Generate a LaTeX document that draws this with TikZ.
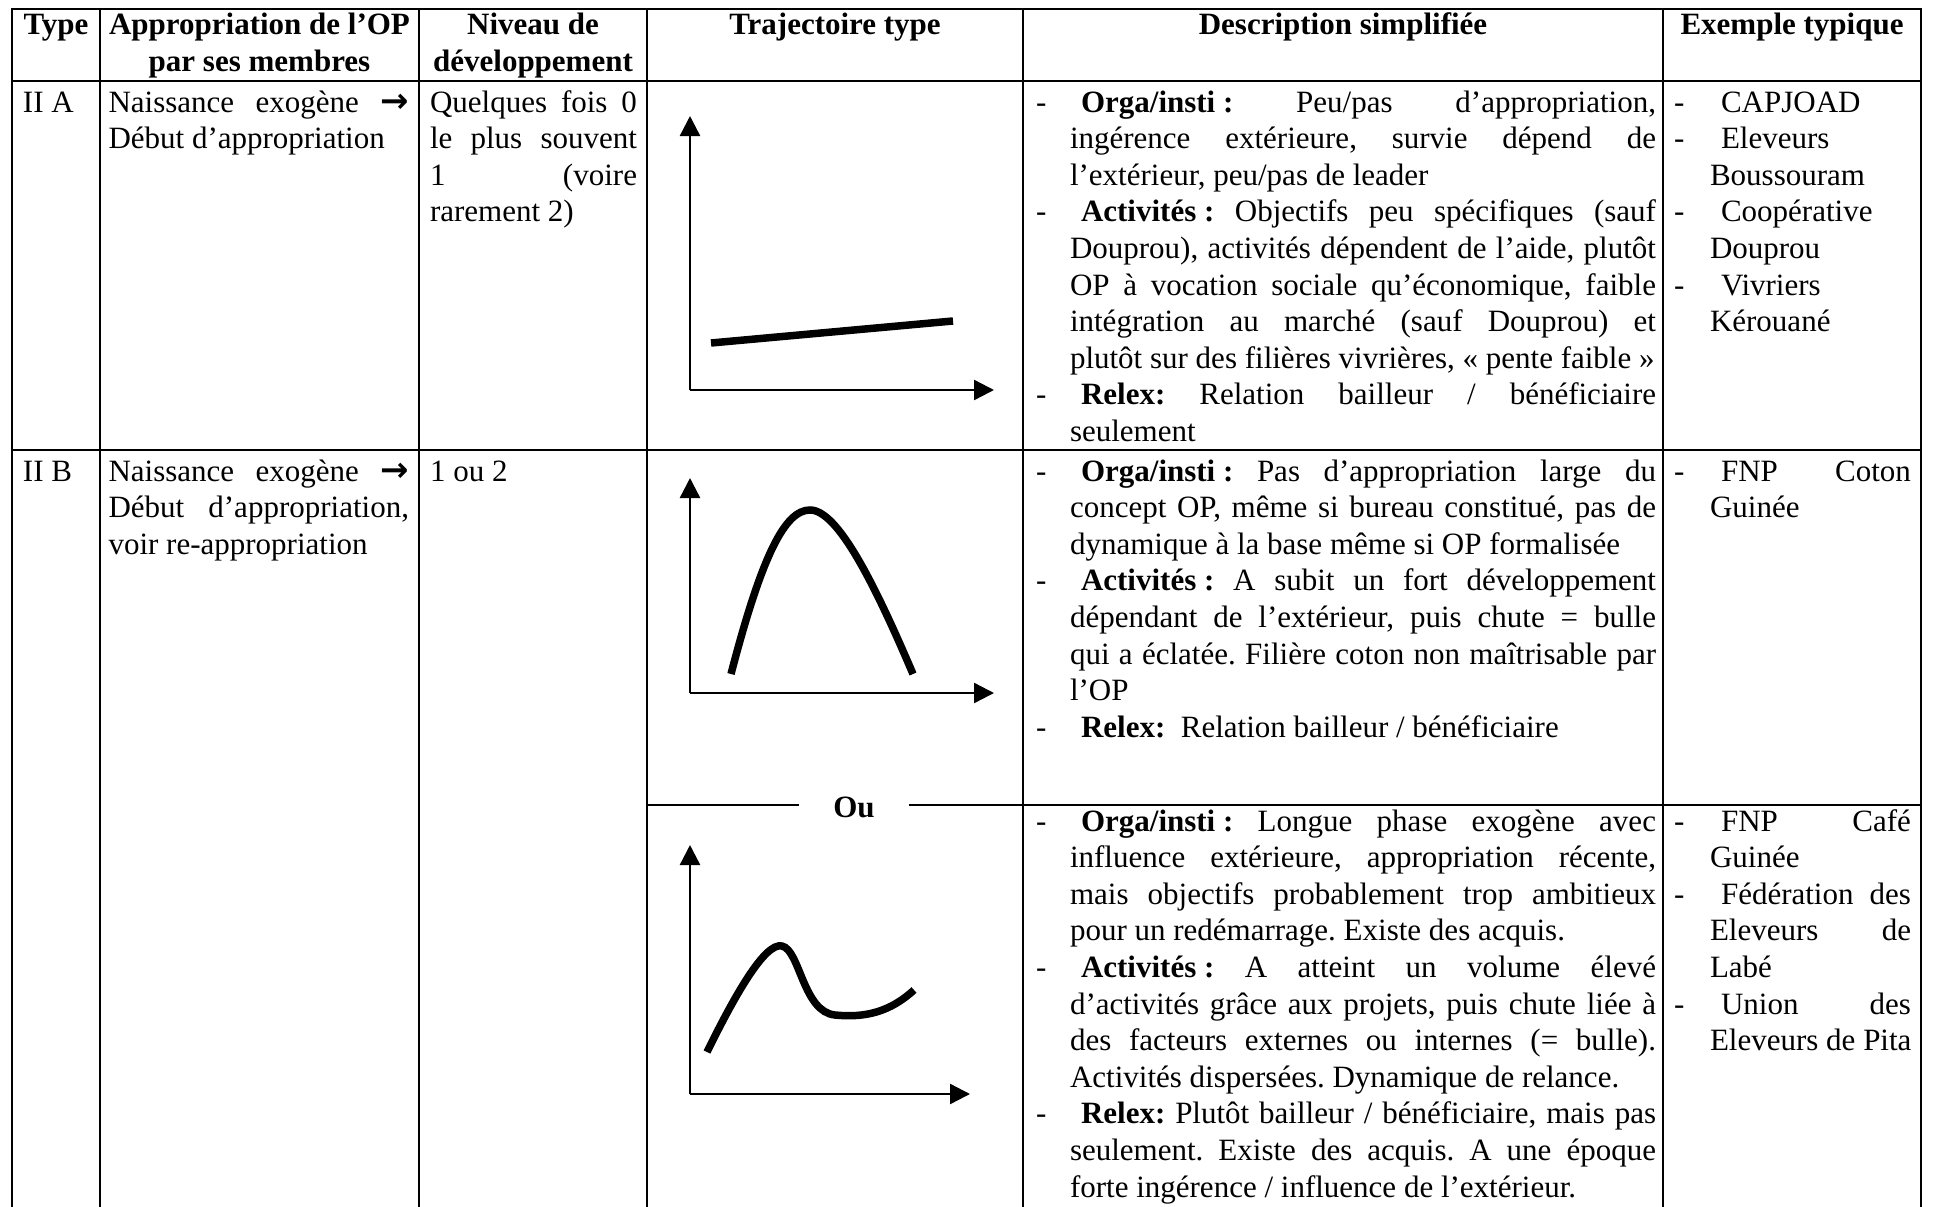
\documentclass[tikz,border=0pt]{standalone}
\usepackage{fontspec}
\setmainfont{Liberation Serif}
\newfontfamily\arrowfont{DejaVu Sans}
\usetikzlibrary{arrows.meta}
\frenchspacing
\newcommand\arr{{\arrowfont\bfseries\fontsize{34}{34}\selectfont →}}
\tikzset{
  txt/.style={anchor=base west, inner sep=0pt, outer sep=0pt, font=\fontsize{31}{36.6}\selectfont},
  hdr/.style={anchor=base, inner sep=0pt, outer sep=0pt, font=\fontsize{31}{36.6}\selectfont\bfseries},
  grid/.style={line width=2.8pt},
  axis/.style={line width=2.4pt, -{Triangle[length=20pt,width=20pt]}},
  curve/.style={line width=7.5pt},
}
% plain line, justified line, bullet dash
\newcommand\Ln[4]{\node[txt] (#1) at (#2,#3) {#4};}
\newcommand\Jn[5]{\node[txt] (#1) at (#2,#3) {\makebox[#4pt][s]{#5}};}
\newcommand\Dash[3]{\node[txt] (#1) at (#2,#3) {-};}
\newcommand\lab[1]{\textbf{\mbox{#1}}}
\begin{document}
\begin{tikzpicture}[x=1pt,y=-1pt]
\useasboundingbox (0,0) rectangle (1933,1207);

% ---- table rules
\draw[grid] (12,1207) -- (12,9) -- (1921,9) -- (1921,1207);
\draw[grid] (12,81) -- (1921,81);
\draw[grid] (12,450) -- (1921,450);
\foreach \x in {100,419,647,1023,1663} \draw[grid] (\x,9) -- (\x,1207);
\node[hdr, inner xsep=6pt] (ou) at (854,817) {Ou};
\draw[grid] (647,805) -- (799,805);
\draw[grid] (909,805) -- (1023,805);
\draw[grid] (1023,805) -- (1921,805);

% ---- header
\node[hdr] (hType) at (56,35) {Type};
\node[hdr] (hApp1) at (259.5,35) {Appropriation de l’OP};
\node[hdr] (hApp2) at (259.5,71) {par ses membres};
\node[hdr] (hNiv1) at (533,35) {Niveau de};
\node[hdr] (hNiv2) at (533,71) {développement};
\node[hdr] (hTraj) at (835,35) {Trajectoire type};
\node[hdr] (hDesc) at (1343,35) {Description simplifiée};
\node[hdr] (hEx) at (1792,35) {Exemple typique};

% ---- row II A
\Ln{iiA}{23}{112}{II A}
\Jn{a1}{108.5}{112}{300.5}{Naissance exogène \arr}
\Ln{a2}{108.5}{148.6}{Début d’appropriation}
\Jn{n1}{430}{112}{207}{Quelques fois 0}
\Jn{n2}{430}{148.6}{207}{le plus souvent}
\Jn{n3}{430}{185.2}{207}{1 (voire}
\Ln{n4}{430}{221.8}{rarement 2)}

\Dash{dA1d}{1036}{112}
\Jn{dA1}{1081}{112}{575}{\lab{Orga/insti :} Peu/pas d’appropriation,}
\Jn{dA2}{1070}{148.6}{586}{ingérence extérieure, survie dépend de}
\Ln{dA3}{1070}{185.2}{l’extérieur, peu/pas de leader}
\Dash{dA4d}{1036}{221.8}
\Jn{dA4}{1081}{221.8}{575}{\lab{Activités :} Objectifs peu spécifiques (sauf}
\Jn{dA5}{1070}{258.4}{586}{Douprou), activités dépendent de l’aide, plutôt}
\Jn{dA6}{1070}{295}{586}{OP à vocation sociale qu’économique, faible}
\Jn{dA7}{1070}{331.6}{586}{intégration au marché (sauf Douprou) et}
\Ln{dA8}{1070}{368.2}{plutôt sur des filières vivrières, « pente faible »}
\Dash{dA9d}{1036}{404.8}
\Jn{dA9}{1081}{404.8}{575}{\lab{Relex:} Relation bailleur / bénéficiaire}
\Ln{dA10}{1070}{441.4}{seulement}

\Dash{eA1d}{1674}{112}
\Ln{eA1}{1721}{112}{CAPJOAD}
\Dash{eA2d}{1674}{148.6}
\Ln{eA2}{1721}{148.6}{Eleveurs}
\Ln{eA3}{1710}{185.2}{Boussouram}
\Dash{eA4d}{1674}{221.8}
\Ln{eA4}{1721}{221.8}{Coopérative}
\Ln{eA5}{1710}{258.4}{Douprou}
\Dash{eA6d}{1674}{295}
\Ln{eA6}{1721}{295}{Vivriers}
\Ln{eA7}{1710}{331.6}{Kérouané}

% ---- row II B
\Ln{iiB}{23}{481}{II B}
\Jn{b1}{108.5}{481}{300.5}{Naissance exogène \arr}
\Jn{b2}{108.5}{517.6}{300.5}{Début d’appropriation,}
\Ln{b3}{108.5}{554.2}{voir re-appropriation}
\Ln{nB}{430}{481}{1 ou 2}

\Dash{dB1d}{1036}{481}
\Jn{dB1}{1081}{481}{575}{\lab{Orga/insti :} Pas d’appropriation large du}
\Jn{dB2}{1070}{517.6}{586}{concept OP, même si bureau constitué, pas de}
\Ln{dB3}{1070}{554.2}{dynamique à la base même si OP formalisée}
\Dash{dB4d}{1036}{590.8}
\Jn{dB4}{1081}{590.8}{575}{\lab{Activités :} A subit un fort développement}
\Jn{dB5}{1070}{627.4}{586}{dépendant de l’extérieur, puis chute = bulle}
\Jn{dB6}{1070}{664}{586}{qui a éclatée. Filière coton non maîtrisable par}
\Ln{dB7}{1070}{700.6}{l’OP}
\Dash{dB8d}{1036}{737.2}
\Ln{dB8}{1081}{737.2}{\textbf{Relex:}\ \ Relation bailleur / bénéficiaire}

\Dash{eB1d}{1674}{481}
\Jn{eB1}{1721}{481}{190}{FNP Coton}
\Ln{eB2}{1710}{517.6}{Guinée}

\Dash{dC1d}{1036}{831}
\Jn{dC1}{1081}{831}{575}{\lab{Orga/insti :} Longue phase exogène avec}
\Jn{dC2}{1070}{867.6}{586}{influence extérieure, appropriation récente,}
\Jn{dC3}{1070}{904.2}{586}{mais objectifs probablement trop ambitieux}
\Ln{dC4}{1070}{940.8}{pour un redémarrage. Existe des acquis.}
\Dash{dC5d}{1036}{977.4}
\Jn{dC5}{1081}{977.4}{575}{\lab{Activités :} A atteint un volume élevé}
\Jn{dC6}{1070}{1014}{586}{d’activités grâce aux projets, puis chute liée à}
\Jn{dC7}{1070}{1050.6}{586}{des facteurs externes ou internes (= bulle).}
\Ln{dC8}{1070}{1087.2}{Activités dispersées. Dynamique de relance.}
\Dash{dC9d}{1036}{1123.8}
\Jn{dC9}{1081}{1123.8}{575}{\textbf{Relex:} Plutôt bailleur / bénéficiaire, mais pas}
\Jn{dC10}{1070}{1160.4}{586}{seulement. Existe des acquis. A une époque}
\Ln{dC11}{1070}{1197}{forte ingérence / influence de l’extérieur.}

\Dash{eC1d}{1674}{831}
\Jn{eC1}{1721}{831}{190}{FNP Café}
\Ln{eC2}{1710}{867.6}{Guinée}
\Dash{eC3d}{1674}{904.2}
\Jn{eC3}{1721}{904.2}{190}{Fédération des}
\Jn{eC4}{1710}{940.8}{201}{Eleveurs de}
\Ln{eC5}{1710}{977.4}{Labé}
\Dash{eC6d}{1674}{1014}
\Jn{eC6}{1721}{1014}{190}{Union des}
\Ln{eC7}{1710}{1050.6}{Eleveurs de Pita}

% ---- trajectory sketches
% slow steady growth
\draw[axis] (690,390) -- (690,116);
\draw[axis] (690,390) -- (994,390);
\draw[curve] (711,343) -- (953,321);
% rise and fall
\draw[axis] (690,693) -- (690,478);
\draw[axis] (690,693) -- (994,693);
\draw[curve] (731,674) .. controls (762,555) and (785,510) .. (810,510)
             .. controls (838,510) and (875,585) .. (913,674);
% rise, fall, recovery
\draw[axis] (690,1094) -- (690,845);
\draw[axis] (690,1094) -- (970,1094);
\draw[curve] (707,1052) .. controls (735,995) and (765,942) .. (782,946)
             .. controls (800,950) and (803,1012) .. (835,1015)
             .. controls (865,1018) and (890,1012) .. (914,990);
\end{tikzpicture}
\end{document}
